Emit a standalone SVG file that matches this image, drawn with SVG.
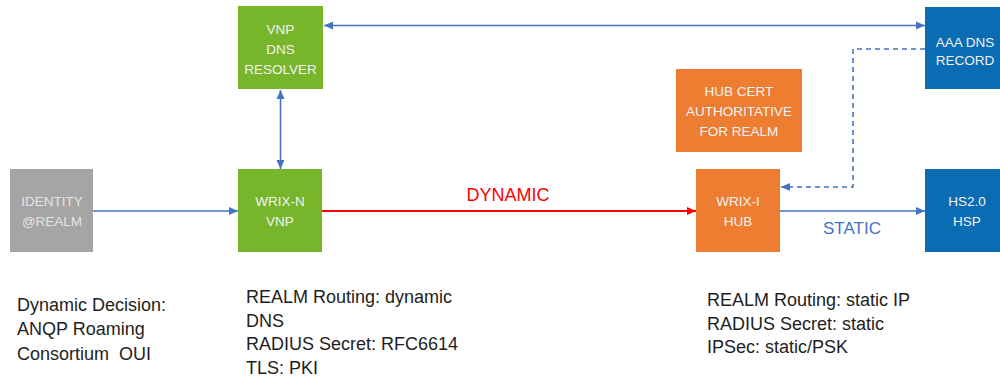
<svg xmlns="http://www.w3.org/2000/svg" width="1000" height="380" viewBox="0 0 1000 380">
  <style>
    .box-green { fill: #77B52B; }
    .box-orange { fill: #ED7D31; }
    .box-blue { fill: #0A6CB3; }
    .box-gray { fill: #A5A5A5; }
    .lbl { font-family: "Liberation Sans", Arial, sans-serif; font-size: 13.5px; fill: #F2F2F2; text-anchor: middle; }
    .lbl-gray { fill: #E4E4E4; }
    .note { font-family: "Liberation Sans", Arial, sans-serif; font-size: 18px; fill: #1E1E1E; }
    .conn { fill: none; stroke: #4472C4; stroke-width: 1.6; }
    .conn-red { fill: none; stroke: #FF0000; stroke-width: 2; }
    .dash { stroke-dasharray: 5 4; }
  </style>
  <defs>
    <marker id="arrow-blue" markerUnits="userSpaceOnUse" markerWidth="10" markerHeight="10" refX="9" refY="5" orient="auto-start-reverse" viewBox="0 0 10 10">
      <path d="M0,1 L9,5 L0,9 Z" fill="#4472C4"/>
    </marker>
    <marker id="arrow-red" markerUnits="userSpaceOnUse" markerWidth="10" markerHeight="10" refX="9" refY="5" orient="auto" viewBox="0 0 10 10">
      <path d="M0,1 L9,5 L0,9 Z" fill="#FF0000"/>
    </marker>
  </defs>

  <rect width="1000" height="380" fill="#FFFFFF"/>

  <!-- connectors -->
  <g id="connectors">
    <line class="conn" x1="324" y1="25.5" x2="925" y2="25.5" marker-start="url(#arrow-blue)" marker-end="url(#arrow-blue)"/>
    <line class="conn" x1="280.5" y1="90" x2="280.5" y2="169" marker-start="url(#arrow-blue)" marker-end="url(#arrow-blue)"/>
    <line class="conn" x1="93" y1="211" x2="238" y2="211" marker-end="url(#arrow-blue)"/>
    <line class="conn-red" x1="322" y1="211" x2="696" y2="211" marker-end="url(#arrow-red)"/>
    <line class="conn" x1="780" y1="211" x2="925" y2="211" marker-end="url(#arrow-blue)"/>
    <polyline class="conn dash" points="925,49 853,49 853,187 781,187" marker-end="url(#arrow-blue)"/>
    <text x="508" y="201" font-family="Liberation Sans, Arial, sans-serif" font-size="18" fill="#FF0000" text-anchor="middle">DYNAMIC</text>
    <text x="852" y="234" font-family="Liberation Sans, Arial, sans-serif" font-size="17" fill="#4472C4" text-anchor="middle">STATIC</text>
  </g>

  <!-- nodes -->
  <g id="vnp-dns-resolver">
    <rect class="box-green" x="238" y="6" width="85" height="83"/>
    <text class="lbl" x="280.5" y="34">VNP</text>
    <text class="lbl" x="280.5" y="54">DNS</text>
    <text class="lbl" x="280.5" y="74">RESOLVER</text>
  </g>

  <g id="aaa-dns-record">
    <rect class="box-blue" x="925" y="7" width="80" height="82"/>
    <text class="lbl" x="965" y="46.5">AAA DNS</text>
    <text class="lbl" x="965" y="65">RECORD</text>
  </g>

  <g id="hub-cert">
    <rect class="box-orange" x="676" y="69" width="126" height="83"/>
    <text class="lbl" x="739" y="96">HUB CERT</text>
    <text class="lbl" x="739" y="116">AUTHORITATIVE</text>
    <text class="lbl" x="739" y="136">FOR REALM</text>
  </g>

  <g id="identity-realm">
    <rect class="box-gray" x="10" y="169" width="83" height="83"/>
    <text class="lbl lbl-gray" x="52" y="206">IDENTITY</text>
    <text class="lbl lbl-gray" x="52" y="226">@REALM</text>
  </g>

  <g id="wrix-n-vnp">
    <rect class="box-green" x="238" y="169" width="84" height="83"/>
    <text class="lbl" x="280" y="206">WRIX-N</text>
    <text class="lbl" x="280" y="226">VNP</text>
  </g>

  <g id="wrix-i-hub">
    <rect class="box-orange" x="696" y="169" width="84" height="83"/>
    <text class="lbl" x="738" y="206">WRIX-I</text>
    <text class="lbl" x="738" y="226">HUB</text>
  </g>

  <g id="hs20-hsp">
    <rect class="box-blue" x="925" y="169" width="80" height="83"/>
    <text class="lbl" x="967" y="206">HS2.0</text>
    <text class="lbl" x="967" y="226">HSP</text>
  </g>

  <!-- notes -->
  <g id="note-decision">
    <text class="note" x="17" y="311">Dynamic Decision:</text>
    <text class="note" x="17" y="335">ANQP Roaming</text>
    <text class="note" x="17" y="360">Consortium&#160; OUI</text>
  </g>

  <g id="note-vnp">
    <text class="note" x="246" y="303">REALM Routing: dynamic</text>
    <text class="note" x="246" y="326.5">DNS</text>
    <text class="note" x="246" y="350">RADIUS Secret: RFC6614</text>
    <text class="note" x="246" y="373.5">TLS: PKI</text>
  </g>

  <g id="note-hub">
    <text class="note" x="707" y="306">REALM Routing: static IP</text>
    <text class="note" x="707" y="329.5">RADIUS Secret: static</text>
    <text class="note" x="707" y="353">IPSec: static/PSK</text>
  </g>
</svg>
